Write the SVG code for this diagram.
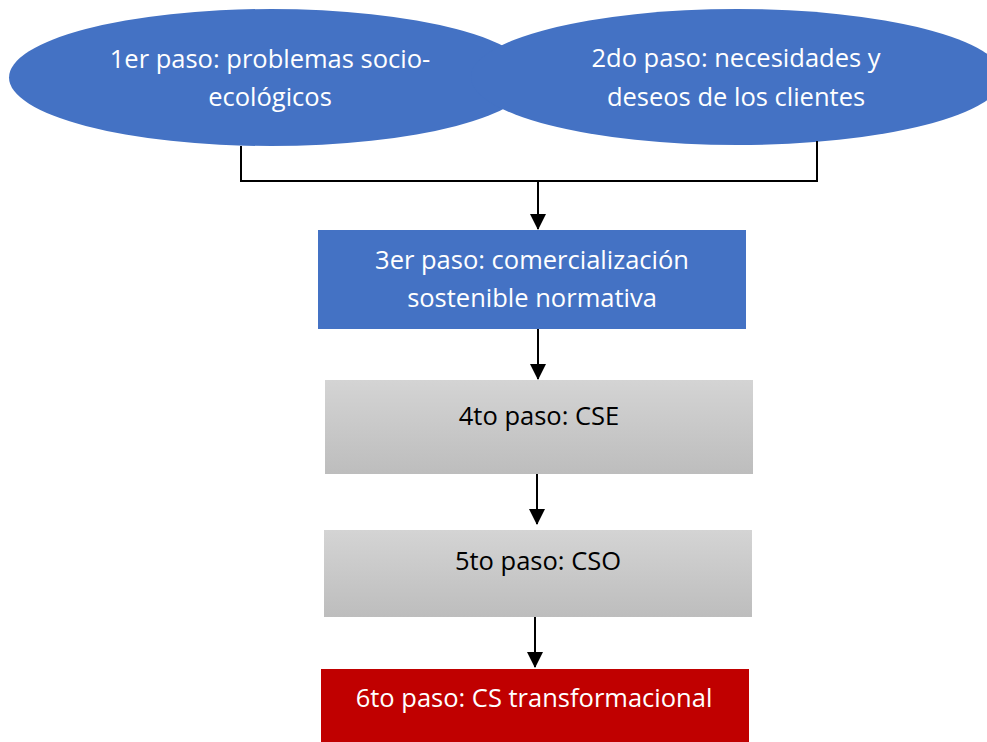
<svg xmlns="http://www.w3.org/2000/svg" width="987" height="742" viewBox="0 0 987 742">
<style>
.t{font-family:"Open Sans","Noto Sans","Liberation Sans",sans-serif;font-size:25.5px;text-anchor:middle}
.w{fill:#ffffff}
.k{fill:#000000}
.blue{fill:#4472C4}
.edge{fill:none;stroke:#000;stroke-width:2}
</style>
<defs>
<linearGradient id="g" x1="0" y1="0" x2="0" y2="1">
<stop offset="0" stop-color="#D4D4D4"/>
<stop offset="1" stop-color="#BDBDBD"/>
</linearGradient>
<marker id="ah" markerUnits="userSpaceOnUse" markerWidth="16" markerHeight="16" viewBox="0 0 16 16" refX="15" refY="8" orient="auto">
<path d="M0,0 L16,8 L0,16 Z" fill="#000"/>
</marker>
</defs>
<g id="n1">
<ellipse class="blue" cx="271" cy="77.5" rx="262" ry="68.5"/>
</g>
<g id="n2">
<ellipse class="blue" cx="737" cy="77" rx="266" ry="68"/>
</g>
<g id="n1-label">
<text class="t w" x="270" y="68">1er paso: problemas socio-</text>
<text class="t w" x="270" y="106">ecológicos</text>
</g>
<g id="n2-label">
<text class="t w" x="736" y="67">2do paso: necesidades y</text>
<text class="t w" x="736" y="106">deseos de los clientes</text>
</g>
<g id="n3">
<rect class="blue" x="318" y="230" width="428" height="99"/>
<text class="t w" x="532" y="269">3er paso: comercialización</text>
<text class="t w" x="532" y="307">sostenible normativa</text>
</g>
<g id="n4">
<rect x="325" y="380" width="428" height="94" fill="url(#g)"/>
<text class="t k" x="539" y="425">4to paso: CSE</text>
</g>
<g id="n5">
<rect x="324" y="530" width="428" height="87" fill="url(#g)"/>
<text class="t k" x="538" y="570">5to paso: CSO</text>
</g>
<g id="n6">
<rect x="321" y="669" width="428" height="73" fill="#C00000"/>
<text class="t w" x="534" y="707">6to paso: CS transformacional</text>
</g>
<g id="connectors">
<polyline class="edge" points="241,146 241,181 817,181 817,141"/>
<line class="edge" x1="538" y1="181" x2="538" y2="229" marker-end="url(#ah)"/>
<line class="edge" x1="538" y1="329" x2="538" y2="379" marker-end="url(#ah)"/>
<line class="edge" x1="537" y1="474" x2="537" y2="524" marker-end="url(#ah)"/>
<line class="edge" x1="535" y1="617" x2="535" y2="667" marker-end="url(#ah)"/>
</g>
</svg>
